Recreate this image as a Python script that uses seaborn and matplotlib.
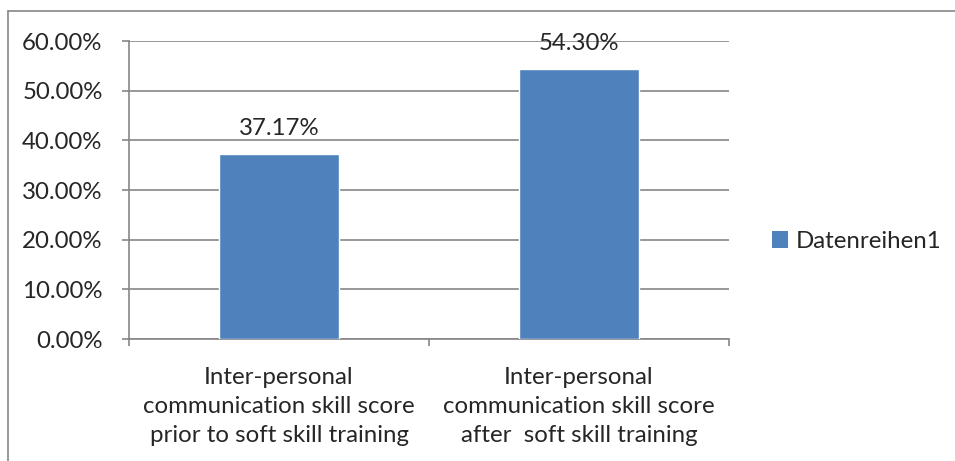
import matplotlib
matplotlib.use('Agg')
import matplotlib.pyplot as plt
import matplotlib.ticker as mticker
from matplotlib.lines import Line2D
from matplotlib.patches import Patch
import seaborn as sns
import pandas as pd

# data
categories = ['Inter-personal\ncommunication skill score\nprior to soft skill training',
              'Inter-personal\ncommunication skill score\nafter  soft skill training']
values = [0.3717, 0.5430]
series_name = 'Datenreihen1'

df = pd.DataFrame({'cat': categories, 'val': values})

sns.set_style('white')
plt.rcParams['font.family'] = ['Lato', 'DejaVu Sans']

bar_color = '#4F81BD'
grid_color = '#868686'
fs = 17.3

fig = plt.figure(figsize=(9.55, 4.61), dpi=100)
ax = fig.add_axes([129 / 955, 1 - 339 / 461, 600 / 955, 298 / 461])

sns.barplot(data=df, x='cat', y='val', color=bar_color, width=0.4,
            saturation=1, ax=ax, zorder=3)

ax.set_ylim(0, 0.6)
ax.set_xlim(-0.5, 1.5)
ax.yaxis.set_major_locator(mticker.MultipleLocator(0.1))
ax.yaxis.set_major_formatter(mticker.FuncFormatter(lambda v, p: f'{v * 100:.2f}%'))
ax.grid(axis='y', color=grid_color, linewidth=1.2, zorder=0)
ax.set_axisbelow(True)

for s in ['top', 'right']:
    ax.spines[s].set_visible(False)
for s in ['left', 'bottom']:
    ax.spines[s].set_color(grid_color)
    ax.spines[s].set_linewidth(1.2)

ax.tick_params(axis='y', direction='out', length=5, width=1.2, color=grid_color,
               labelsize=fs, pad=14, left=True)
ax.tick_params(axis='x', which='major', length=0, labelsize=fs, pad=20)
ax.xaxis.set_minor_locator(mticker.FixedLocator([-0.5, 0.5, 1.5]))
ax.tick_params(axis='x', which='minor', direction='out', length=5, width=1.2,
               color=grid_color, bottom=True)
for lbl in ax.get_xticklabels():
    lbl.set_linespacing(1.48)

ax.set_xlabel('')
ax.set_ylabel('')

# value labels
ax.bar_label(ax.containers[0], labels=[f'{v * 100:.2f}%' for v in values],
             padding=11, fontsize=fs)

# legend
handle = Patch(facecolor=bar_color, edgecolor='none', label=series_name)
fig.legend(handles=[handle], loc='center left', bbox_to_anchor=(750 / 955, 1 - 241 / 461),
           frameon=False, fontsize=fs, handlelength=0.7, handleheight=0.7,
           handletextpad=0.3)

# outer chart frame
fig.add_artist(Line2D([8 / 955, 8 / 955], [0, 1 - 11 / 461], transform=fig.transFigure,
                      color=grid_color, linewidth=1.2))
fig.add_artist(Line2D([8 / 955, 1], [1 - 11 / 461, 1 - 11 / 461], transform=fig.transFigure,
                      color=grid_color, linewidth=1.2))

fig.savefig('out.png', dpi=100)
